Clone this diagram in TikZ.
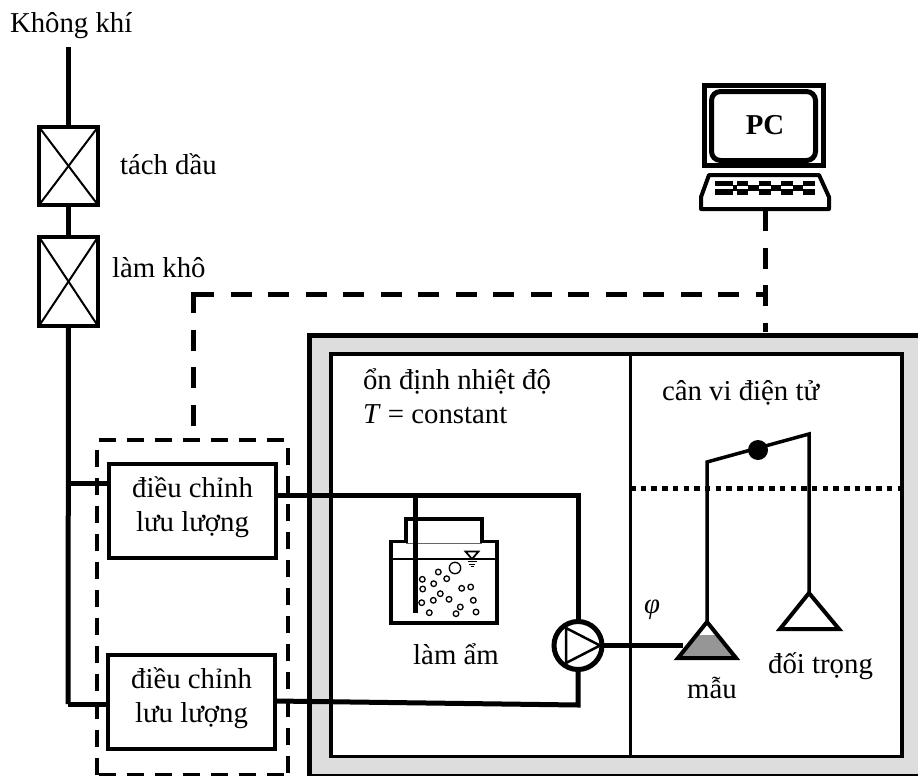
\documentclass[tikz,border=0pt]{standalone}
\usepackage{fontspec}
\setmainfont{Liberation Serif}
\usetikzlibrary{positioning}
\definecolor{chamberGray}{RGB}{221,221,221}
\definecolor{sampleGray}{RGB}{150,150,150}
\begin{document}
\begin{tikzpicture}[
      x=1pt, y=-1pt,
      label/.style={font=\fontsize{28.8}{34}\selectfont, inner sep=0pt, outer sep=0pt},
      pipe/.style={line width=5pt},
      rod/.style={line width=3.5pt},
      signal/.style={line width=5pt, dash pattern=on 21pt off 16.5pt},
      filterbox/.style={draw, line width=4pt, fill=white, outer sep=0pt, inner sep=0pt, minimum width=59pt},
      regbox/.style={draw, line width=4pt, fill=white, outer sep=0pt, inner sep=0pt, minimum width=167pt, minimum height=94pt, align=center, text depth=13pt, font=\fontsize{28.8}{34}\selectfont}
    ]
    \useasboundingbox (0,0) rectangle (918,776);
    \clip (0,0) rectangle (918,776);

    \draw[line width=5pt, fill=chamberGray] (918,335) -- (309.5,335) -- (309.5,776) -- (918,776);
    \node[draw, line width=3.5pt, fill=white, outer sep=0pt, inner sep=0pt, minimum width=571pt, minimum height=402.5pt] (room) at (616.5,555.25) {};
    \coordinate (splitTop) at (630,354);
    \draw[line width=3pt] (splitTop) -- (splitTop |- room.south);
    \coordinate (dotStart) at (630,488);
    \draw[line width=5pt, dash pattern=on 5.5pt off 5.2pt] (dotStart) -- (dotStart -| room.east);

    \node[filterbox, minimum height=78pt] (filterOil) at (68.5,166) {};
    \node[filterbox, minimum height=89pt] (filterDry) at (68.5,281.5) {};
    \foreach \f in {filterOil,filterDry} {
      \draw[line width=2pt] (\f.north west) -- (\f.south east);
      \draw[line width=2pt] (\f.north east) -- (\f.south west);
    }
    \coordinate (airIn) at (68.5,47);
    \coordinate (busTop) at (68.5,483);
    \coordinate (busEnd) at (68,704);
    \draw[pipe] (airIn) -- (filterOil.north);
    \draw[pipe] (filterOil.south) -- (filterDry.north);
    \draw[pipe] (filterDry.south) -- (busEnd);

    \node[regbox] (regTop) at (192.5,510.5) {điều chỉnh\\lưu lượng};
    \node[regbox] (regBot) at (191.5,701.5) {điều chỉnh\\lưu lượng};
    \draw[pipe] (busTop) -- (busTop -| regTop.west);
    \draw[pipe] (busEnd) -- (busEnd -| regBot.west);

    \node[outer sep=0pt, inner sep=0pt, minimum width=191pt, minimum height=335pt] (regGroup) at (192.5,607.5) {};
    \foreach \a/\b/\p in {north west/south west/18,north east/south east/20,north west/north east/26,south west/south east/26} {
      \draw[line width=4pt, dash pattern=on 17pt off 11pt, dash phase=\p pt] (regGroup.\a) -- (regGroup.\b);
    }

    \node[draw, circle, line width=5pt, fill=white, outer sep=0pt, inner sep=0pt, minimum size=48pt] (pump) at (578,645.5) {};
    \draw[line width=2.5pt, line join=round] (566,628) -- (600,645.5) -- (566,663) -- cycle;
    \coordinate (pipeTurnTop) at (578,495);
    \coordinate (pipeTurnBot) at (578,705);
    \coordinate (regBotOut) at (275,701);
    \coordinate (dipEnd) at (415,613);
    \coordinate (sampleIn) at (683,645.5);
    \draw[pipe] (regTop.east |- pipeTurnTop) -- (pipeTurnTop) -- (pump.north);
    \draw[pipe] (regBotOut) -- (pipeTurnBot) -- (pump.south);
    \draw[pipe] (pump.east) -- (sampleIn);

    \draw[line width=3.5pt] (391,541.5) -- (406,541.5) -- (406,519) -- (482,519) -- (482,541.5) -- (497,541.5) -- (497,623) -- (391,623) -- cycle;
    \draw[line width=.6pt, black!60] (406,543) -- (482,543);
    \draw[line width=1.6pt] (391,559) -- (497,559);
    \draw[line width=1.8pt, fill=white] (472,559) -- (465.5,551.5) -- (478.5,551.5) -- cycle;
    \foreach \y/\w in {561.5/4.5,564/3,566.5/1.5} {
      \draw[line width=.8pt] (472-\w,\y) -- (472+\w,\y);
    }
    \draw[pipe] (dipEnd |- pipeTurnTop) -- (dipEnd);
    \draw[line width=1.3pt] (455,568) circle (5.7);
    \foreach \x/\y in {438.3/572,446.7/578.7,422.3/579.3,433.7/583.7,422.7/589,461.7/588.3,470.7/587,440.3/593.7,433.3/600.3,449/599.3,421.7/602.7,473.3/600.3,460.3/607,456/613.7,429.3/612.7,476/612} {
      \draw[line width=1.3pt] (\x,\y) circle (2.8);
    }

    \coordinate (beamLeft) at (707,462);
    \coordinate (beamRight) at (809,434);
    \coordinate (panLeft) at (707,622);
    \coordinate (panRight) at (809,593);
    \draw[rod, line join=miter] (panLeft) -- (beamLeft) -- (beamRight) -- (panRight);
    \node[circle, fill=black, inner sep=0pt, minimum size=20pt] (pivot) at (758,450) {};
    \fill[sampleGray] (696.5,635) -- (717.5,635) -- (736,658) -- (678,658) -- cycle;
    \draw[line width=4pt] (panLeft) -- (736,658) -- (678,658) -- cycle;
    \draw[line width=4pt] (panRight) -- (839,629) -- (780,629) -- cycle;

    \draw[line width=5pt] (704.5,85.5) rectangle (823.5,165.5);
    \draw[line width=5pt, rounded corners=9pt] (711.5,91.5) rectangle (815.5,160.5);
    \node[font=\fontsize{28.8}{30}\selectfont\bfseries, inner sep=0pt] (pcText) at (765,125) {PC};
    \draw[line width=4pt, line join=round] (709,175) -- (819,175) -- (829,197) -- (829,209) -- (701,209) -- (701,197) -- cycle;
    \foreach \xa/\xb in {715/733,737/748,759/771,781/793,803/815} {
      \fill (\xa,181) rectangle (\xb,186.4);
      \fill (\xa,188.8) rectangle (\xb,194.5);
    }
    \foreach \xa/\xb in {733/737,748/759,771/781,793/803} {
      \fill (\xa,184.5) rectangle (\xb,190.5);
    }

    \coordinate (pcOut) at (765,210);
    \coordinate (roomIn) at (765,332);
    \coordinate (signalTurn) at (193,292);
    \coordinate (signalEnd) at (193,426);
    \draw[signal] (pcOut) -- (roomIn);
    \draw[signal] (signalTurn) -- (signalEnd);
    \draw[signal] (signalTurn |- 0,294) -- (pcOut |- 0,294);

    \node[label, anchor=base west] (airText) at (10,33) {Không khí};
    \node[label, anchor=base west] (oilText) at (120,174) {tách dầu};
    \node[label, anchor=base west] (dryText) at (112,277) {làm khô};
    \node[label, anchor=base west, align=left] (tempText) at (363,423) {ổn định nhiệt độ\\\textit{T} = constant};
    \node[label, anchor=base west] (scaleText) at (662,400) {cân vi điện tử};
    \node[label, anchor=base] (wetText) at (456,664) {làm ẩm};
    \node[label, anchor=base] (phiText) at (652,613) {\textit{φ}};
    \node[label, anchor=base] (sampleText) at (712,698) {mẫu};
    \node[label, anchor=base] (weightText) at (820.5,673) {đối trọng};
  \end{tikzpicture}
\end{document}
